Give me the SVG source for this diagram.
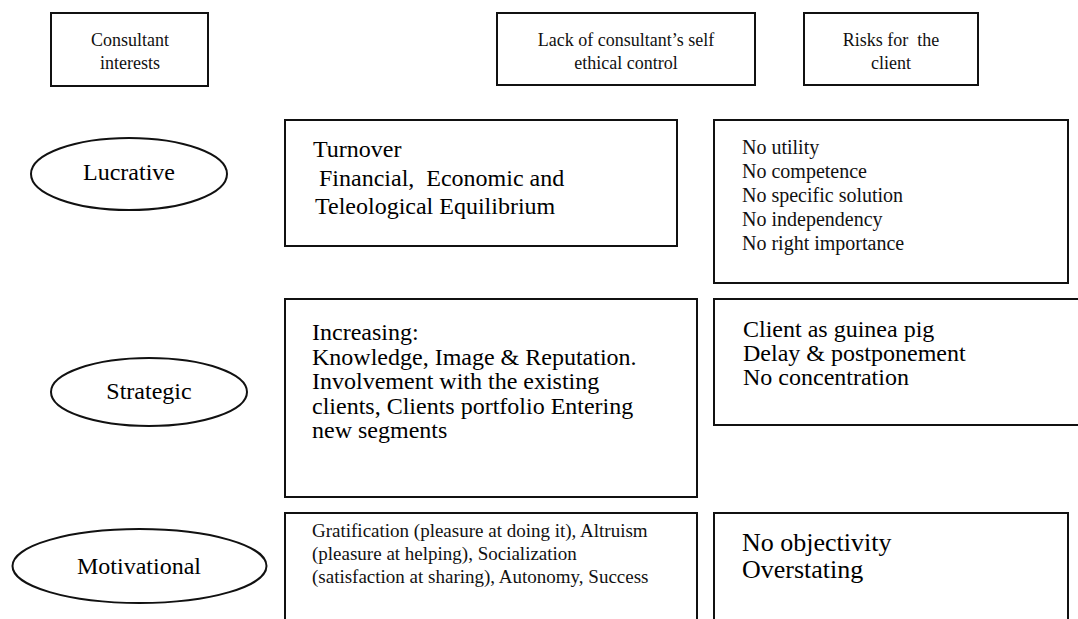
<svg xmlns="http://www.w3.org/2000/svg" width="1078" height="619" viewBox="0 0 1078 619">
<style>
.box{fill:#fff;stroke:#111;stroke-width:2}
.hd{font-family:"Liberation Serif",serif;font-size:18px;fill:#111;text-anchor:middle}
.el{font-family:"Liberation Serif",serif;font-size:24px;fill:#000;text-anchor:middle}
.tt{font-family:"Liberation Serif",serif;font-size:24px;fill:#000}
.tb{font-family:"Liberation Serif",serif;font-size:26px;fill:#000}
.ct{font-family:"Liberation Serif",serif;font-size:20px;fill:#111}
.cs{font-family:"Liberation Serif",serif;font-size:19px;fill:#111}
</style>
<rect width="1078" height="619" fill="#fff"/>
<g id="hdr-consultant">
<rect class="box" x="51" y="13" width="157" height="73"/>
<text class="hd" x="130" y="46">Consultant</text>
<text class="hd" x="130" y="69">interests</text>
</g>
<g id="hdr-lack">
<rect class="box" x="497" y="13" width="258" height="72"/>
<text class="hd" x="626" y="46">Lack of consultant’s self</text>
<text class="hd" x="626" y="69">ethical control</text>
</g>
<g id="hdr-risks">
<rect class="box" x="804" y="13" width="174" height="72"/>
<text class="hd" x="891" y="46" xml:space="preserve">Risks for  the</text>
<text class="hd" x="891" y="69">client</text>
</g>
<g id="lucrative">
<ellipse class="box" cx="129" cy="174" rx="98" ry="36"/>
<text class="el" x="129" y="180">Lucrative</text>
</g>
<g id="strategic">
<ellipse class="box" cx="149" cy="392" rx="98" ry="34"/>
<text class="el" x="149" y="399">Strategic</text>
</g>
<g id="motivational">
<ellipse class="box" cx="139.5" cy="566" rx="127" ry="37"/>
<text class="el" x="139" y="574">Motivational</text>
</g>
<g id="lack-lucrative">
<rect class="box" x="285" y="120" width="392" height="126"/>
<text class="tt" x="313" y="157">Turnover</text>
<text class="tt" x="313" y="186" xml:space="preserve"> Financial,  Economic and</text>
<text class="tt" x="315" y="214">Teleological Equilibrium</text>
</g>
<g id="risk-lucrative">
<rect class="box" x="714" y="120" width="354" height="163"/>
<text class="ct" x="742" y="154">No utility</text>
<text class="ct" x="742" y="178">No competence</text>
<text class="ct" x="742" y="202">No specific solution</text>
<text class="ct" x="742" y="226">No independency</text>
<text class="ct" x="742" y="250">No right importance</text>
</g>
<g id="lack-strategic">
<rect class="box" x="285" y="299" width="412" height="198"/>
<text class="tt" x="312" y="340">Increasing:</text>
<text class="tt" x="312" y="364.5">Knowledge, Image &amp; Reputation.</text>
<text class="tt" x="312" y="389">Involvement with the existing</text>
<text class="tt" x="312" y="413.5">clients, Clients portfolio Entering</text>
<text class="tt" x="312" y="438">new segments</text>
</g>
<g id="risk-strategic">
<rect class="box" x="714" y="299" width="370" height="126"/>
<text class="tt" x="743" y="337">Client as guinea pig</text>
<text class="tt" x="743" y="361">Delay &amp; postponement</text>
<text class="tt" x="743" y="385">No concentration</text>
</g>
<g id="lack-motivational">
<rect class="box" x="285" y="513" width="412" height="120"/>
<text class="cs" x="312" y="537">Gratification (pleasure at doing it), Altruism</text>
<text class="cs" x="312" y="560">(pleasure at helping), Socialization</text>
<text class="cs" x="312" y="583">(satisfaction at sharing), Autonomy, Success</text>
</g>
<g id="risk-motivational">
<rect class="box" x="714" y="513" width="354" height="120"/>
<text class="tb" x="742" y="551">No objectivity</text>
<text class="tb" x="742" y="578">Overstating</text>
</g>
<g id="connectors"></g>
</svg>
